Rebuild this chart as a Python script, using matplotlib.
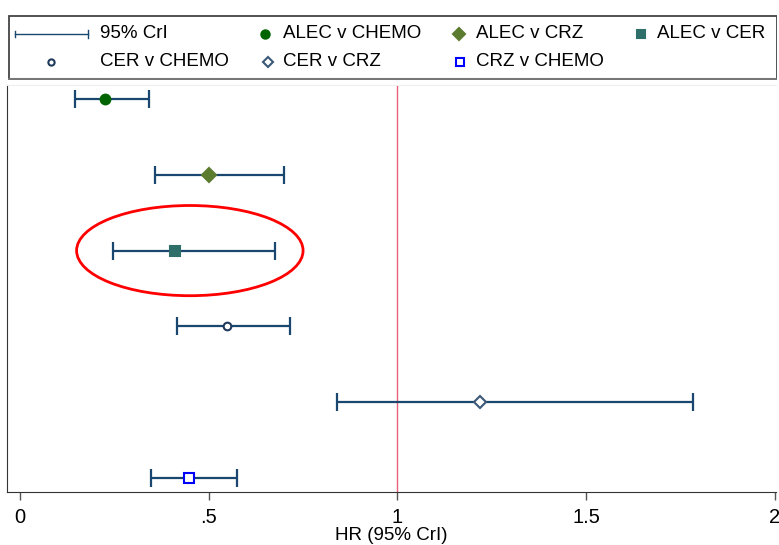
import numpy as np
import matplotlib
matplotlib.use("Agg")
import matplotlib.pyplot as plt
from matplotlib.patches import Ellipse, Rectangle

plt.rcParams['font.family'] = ['Liberation Sans', 'DejaVu Sans']

# Hazard ratios with 95% credible intervals, top row first
comparisons = ['ALEC v CHEMO', 'ALEC v CRZ', 'ALEC v CER',
               'CER v CHEMO', 'CER v CRZ', 'CRZ v CHEMO']
hr = [0.225, 0.50, 0.41, 0.548, 1.22, 0.448]
lower = [0.146, 0.358, 0.247, 0.415, 0.839, 0.346]
upper = [0.341, 0.699, 0.675, 0.715, 1.783, 0.576]

markers = ['o', 'D', 's', 'o', 'D', 's']
face_colors = ['#006400', '#5b7b2f', '#2f6f69', 'white', 'white', 'white']
edge_colors = ['#006400', '#5b7b2f', '#2f6f69', '#1f3a5c', '#3b5878', '#0000ff']
marker_sizes = [7, 7, 7, 5.5, 6, 6.5]

ci_color = '#1a476f'
row_pos = np.arange(len(comparisons), 0, -1)

fig = plt.figure(figsize=(7.79, 5.45), dpi=100)
ax = fig.add_axes([7 / 779, 1 - 492 / 545, 769 / 779, 407 / 545])

# credible intervals
ax.errorbar(hr, row_pos, xerr=[np.array(hr) - np.array(lower), np.array(upper) - np.array(hr)],
            fmt='none', ecolor=ci_color, elinewidth=1.6, capsize=6.5, capthick=1.6, zorder=2)

# point estimates
for i in range(len(comparisons)):
    ax.plot(hr[i], row_pos[i], marker=markers[i], linestyle='none',
            markersize=marker_sizes[i],
            markerfacecolor=face_colors[i], markeredgecolor=edge_colors[i],
            markeredgewidth=1.5, zorder=3)

# line of no effect
ax.axvline(1, color='#e8607a', linewidth=1.0, zorder=1)

# highlight ALEC v CER
ax.add_patch(Ellipse((0.45, row_pos[2]), 0.60, 1.19, fill=False,
                     edgecolor='red', linewidth=2.0, zorder=4))

ax.set_xlim(-0.0344, 2.003)
ax.set_ylim(0.815, 6.185)
ax.set_yticks([])
ax.set_xticks([0, 0.5, 1, 1.5, 2])
ax.set_xticklabels(['0', '.5', '1', '1.5', '2'], fontsize=14.5)
ax.tick_params(axis='x', direction='out', length=5.5, width=1, color='#555555', pad=6)
ax.set_xlabel('HR (95% CrI)', fontsize=13.5, labelpad=0)
ax.spines['right'].set_visible(False)
ax.spines['top'].set_color('#eeeeee')
ax.spines['left'].set_color('#333333')
ax.spines['bottom'].set_color('#333333')

# legend box drawn on its own axes, pixel-like coordinates
lax = fig.add_axes([8 / 779, 1 - 80 / 545, 769 / 779, 65 / 545])
lax.set_xlim(0, 769)
lax.set_ylim(65, 0)
lax.axis('off')
lax.add_patch(Rectangle((0.5, 0.5), 768, 63.5, fill=False, edgecolor='#444444', linewidth=1.3))
lax.plot([1, 768], [64, 64], color='#777777', linewidth=1.5)

row_y = [19, 47]
lax.plot([7, 80], [row_y[0], row_y[0]], color=ci_color, linewidth=1.0)
lax.plot([7, 7], [row_y[0] - 3, row_y[0] + 3], color=ci_color, linewidth=1.0)
lax.plot([80, 80], [row_y[0] - 4, row_y[0] + 4], color=ci_color, linewidth=1.0)
lax.text(92, row_y[0], '95% CrI', fontsize=13.5, va='center', ha='left')

legend_slots = [(257, 275, 0), (451, 468, 0), (633, 649, 0),
                (43, 92, 1), (260, 275, 1), (452, 468, 1)]
for i, (mx, tx, r) in enumerate(legend_slots):
    lax.plot(mx, row_y[r], marker=markers[i], linestyle='none',
             markersize=marker_sizes[i] - 1,
             markerfacecolor=face_colors[i], markeredgecolor=edge_colors[i], markeredgewidth=1.5)
    lax.text(tx, row_y[r], comparisons[i], fontsize=13.5, va='center', ha='left')

fig.savefig('out.png', dpi=100)
